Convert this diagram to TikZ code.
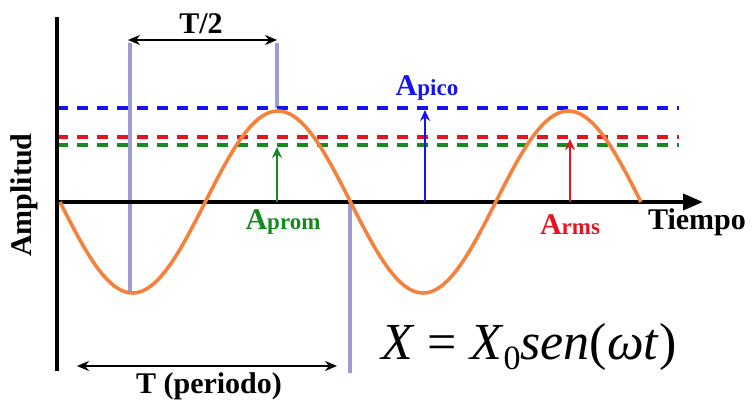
\documentclass[tikz,border=0pt]{standalone}
\usepackage{fontspec}
\setmainfont{Liberation Serif}
\usetikzlibrary{arrows.meta,calc,positioning}
\definecolor{WaveOrange}{HTML}{F5823C}
\definecolor{GuideLilac}{HTML}{9C9CD4}
\definecolor{PicoBlue}{HTML}{1414F0}
\definecolor{RmsRed}{HTML}{E6141E}
\definecolor{PromGreen}{HTML}{168A1E}
\newcommand{\ampname}[1]{\bfseries{\fontsize{30}{30}\selectfont A}{\fontsize{23}{23}\selectfont #1}}
\tikzset{
  axisline/.style={line width=3.8pt},
  guide/.style={GuideLilac, line width=3.2pt},
  level/.style={line width=3.8pt, dash pattern=on 11pt off 9pt},
  lvlarrow/.style={line width=2.6pt, -{Stealth[length=11pt,width=10pt]}},
  span/.style={line width=2.6pt, {Stealth[length=12pt,width=10pt]}-{Stealth[length=12pt,width=10pt]}},
  lbl/.style={inner sep=0pt, font=\bfseries\fontsize{30}{30}\selectfont}
}
\begin{document}
\begin{tikzpicture}[x=1pt,y=-1pt]
  \useasboundingbox[fill=white] (0,0) rectangle (752,403);
  % key points of the wave
  \coordinate (orig) at (57,202);
  \coordinate (ytop) at (57,17);
  \coordinate (ybot) at (57,371);
  \coordinate (xend) at (703,202);
  \coordinate (min1) at (130,291);
  \coordinate (max1) at (277,108);
  \coordinate (zero2) at (350,202);

  % guide lines for the period
  \draw[guide] (130,43) -- (min1);
  \draw[guide] (277,43) -- (max1);
  \draw[guide] (zero2) -- (350,373);

  % reference levels
  \draw[level, PicoBlue] (orig |- max1) -- (679,108);
  \draw[level, RmsRed] (57,137) -- (679,137);
  \draw[level, PromGreen] (57,145) -- (679,145);

  % axes
  \draw[axisline] (ytop) -- (ybot);
  \draw[axisline, -{Triangle[length=20pt,width=16pt]}] (orig) -- (xend);

  % the wave
  \draw[WaveOrange, line width=3.6pt, line join=round]
    plot[domain=60:641, samples=120, smooth] (\x, {202+91*sin(1.23924*(\x-60))});

  % level arrows
  \coordinate (prom0) at (277,202);
  \coordinate (prom1) at (277,147);
  \coordinate (pico0) at (425,202);
  \coordinate (pico1) at (425,110);
  \coordinate (rms0) at (570,202);
  \coordinate (rms1) at (570,139);
  \draw[lvlarrow, PromGreen] (prom0) -- (prom1);
  \draw[lvlarrow, PicoBlue] (pico0) -- (pico1);
  \draw[lvlarrow, RmsRed] (rms0) -- (rms1);

  \node[inner sep=0pt, PromGreen] (aprom) at (283,222) {\ampname{prom}};
  \node[inner sep=0pt, PicoBlue] (apico) at (427,88) {\ampname{pico}};
  \node[inner sep=0pt, RmsRed] (arms) at (570,225) {\ampname{rms}};

  % spans
  \coordinate (half0) at (128,40);
  \coordinate (half1) at (277,40);
  \draw[span] (half0) -- (half1);
  \node[lbl] (halflbl) at (201,24) {T/2};
  \coordinate (per0) at (77,366);
  \coordinate (per1) at (337,366);
  \draw[span] (per0) -- (per1);
  \node[lbl] (perlbl) at (209,386) {T (periodo)};

  % axis labels
  \node[lbl] (tiempo) at (697,222) {Tiempo};
  \node[lbl, rotate=90] (amplitud) at (24,195) {Amplitud};

  % formula
  \node[inner sep=0pt, font=\fontsize{52}{52}\selectfont] (formula) at (529,347)
    {\textit{X} = \textit{X}\raisebox{-0.4ex}{\fontsize{34}{34}\selectfont 0}\textit{sen}(\textit{ωt})};
\end{tikzpicture}
\end{document}
